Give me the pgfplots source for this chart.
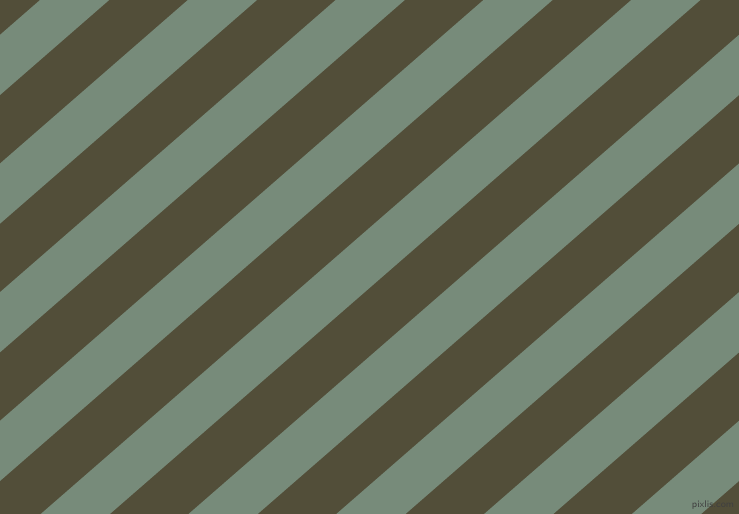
\documentclass[border=0pt]{standalone}
\usepackage{pgfplots}
\pgfplotsset{compat=1.18}

\definecolor{darkolive}{RGB}{82,78,57}
\definecolor{sagegrey}{RGB}{119,139,122}

\begin{document}
\begin{tikzpicture}
\begin{axis}[
    scale only axis,
    width=7.39in,
    height=5.14in,
    xmin=0, xmax=739,
    ymin=0, ymax=514,
    hide axis,
    clip=true,
    clip bounding box=upper bound,
]
% background
\addplot[fill=darkolive, draw=none] coordinates {(0,0) (739,0) (739,514) (0,514)} -- cycle;

% grey stripes: top edge (y=514) and bottom edge (y=0) x positions
\addplot[fill=sagegrey, draw=none] coordinates {(40,514) (109.2,514) (-481.3,0) (-550.5,0)} -- cycle;
\addplot[fill=sagegrey, draw=none] coordinates {(187.8,514) (257,514) (-333.5,0) (-402.7,0)} -- cycle;
\addplot[fill=sagegrey, draw=none] coordinates {(335.6,514) (404.8,514) (-185.7,0) (-254.9,0)} -- cycle;
\addplot[fill=sagegrey, draw=none] coordinates {(483.4,514) (552.6,514) (-37.9,0) (-107.1,0)} -- cycle;
\addplot[fill=sagegrey, draw=none] coordinates {(631.2,514) (700.4,514) (109.9,0) (40.7,0)} -- cycle;
\addplot[fill=sagegrey, draw=none] coordinates {(779,514) (848.2,514) (257.7,0) (188.5,0)} -- cycle;
\addplot[fill=sagegrey, draw=none] coordinates {(926.8,514) (996,514) (405.5,0) (336.3,0)} -- cycle;
\addplot[fill=sagegrey, draw=none] coordinates {(1074.6,514) (1143.8,514) (553.3,0) (484.1,0)} -- cycle;
\addplot[fill=sagegrey, draw=none] coordinates {(1222.4,514) (1291.6,514) (701.1,0) (631.9,0)} -- cycle;

% watermark
\node[anchor=center, text=black!75, font=\sffamily\fontsize{7}{8}\selectfont, inner sep=0pt]
    at (axis cs:713,9) {pixlis.com};
\end{axis}
\end{tikzpicture}
\end{document}
